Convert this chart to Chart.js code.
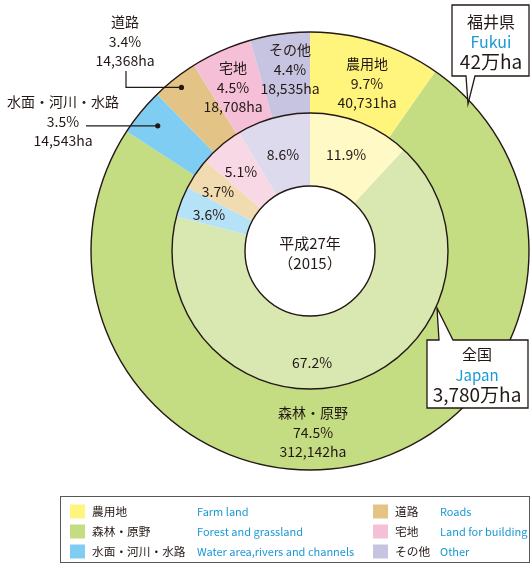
<!DOCTYPE html>
<html><head><meta charset="utf-8">
<script src="https://cdn.jsdelivr.net/npm/chart.js@4"></script>
<style>html,body{margin:0;padding:0;background:#fff;}canvas{display:block}</style>
</head><body>
<canvas id="c" width="531" height="563"></canvas>
<script>
// ---- data ----
const categories = ['農用地', '森林・原野', '水面・河川・水路', '道路', '宅地', 'その他'];
const categoriesEn = ['Farm land', 'Forest and grassland', 'Water area,rivers and channels', 'Roads', 'Land for building', 'Other'];
const fukuiPercent = [9.7, 74.5, 3.5, 3.4, 4.5, 4.4];
const fukuiHectares = [40731, 312142, 14543, 14368, 18708, 18535];
const japanPercent = [11.9, 67.2, 3.6, 3.7, 5.1, 8.6];
const fukuiName = ['福井県', 'Fukui', '42万ha'];
const japanName = ['全国', 'Japan', '3,780万ha'];
const yearLabel = ['平成27年', '（2015）'];

// ---- styles ----
const outerColors = ['#fff47c', '#c4dc82', '#80cdf3', '#e4c486', '#f4bfd7', '#c7c4e2'];
const innerColors = ['#fffac5', '#d9e7b1', '#b6e2f8', '#f1dbb1', '#f9d8e6', '#dddaee'];
const TXT = '#231815';
const BLUE = '#1b98d5';
const FONT = "'Noto Sans CJK JP', 'Noto Sans', sans-serif";

// label offsets from chart centre (dx, dy of first line)
const outerLabelPos = [[57, -187], [3, 162], [-247, -149], [-185, -229], [-77, -183], [-20, -201]];
const innerLabelPos = [[36, -96], [2, 112], [-101, -36], [-92, -59], [-69, -79], [-27, -96]];

const fmt = n => n.toLocaleString('en-US');

const overlay = {
  id: 'overlay',
  afterDatasetsDraw(chart) {
    const ctx = chart.ctx;
    const m0 = chart.getDatasetMeta(0), m1 = chart.getDatasetMeta(1);
    const p0 = m0.data[0].getProps(['x', 'y', 'outerRadius', 'innerRadius']);
    const p1 = m1.data[0].getProps(['x', 'y', 'outerRadius', 'innerRadius']);
    const cx = p0.x, cy = p0.y;
    ctx.save();
    ctx.strokeStyle = TXT;
    ctx.lineWidth = 1.4;
    [p0.outerRadius, p0.innerRadius].forEach(r => {
      ctx.beginPath(); ctx.arc(cx, cy, r, 0, Math.PI * 2); ctx.stroke();
    });
    ctx.beginPath(); ctx.arc(cx, cy, p1.innerRadius, 0, Math.PI * 2);
    ctx.fillStyle = '#fff'; ctx.fill(); ctx.stroke();

    ctx.fillStyle = TXT;
    ctx.textAlign = 'center';
    ctx.textBaseline = 'middle';
    // outer labels
    ctx.font = '14px ' + FONT;
    categories.forEach((c, i) => {
      const [dx, dy] = outerLabelPos[i];
      const lines = [c, fukuiPercent[i].toFixed(1) + '%', fmt(fukuiHectares[i]) + 'ha'];
      lines.forEach((t, k) => ctx.fillText(t, cx + dx, cy + dy + k * 19.5));
    });
    // inner labels
    categories.forEach((c, i) => {
      const [dx, dy] = innerLabelPos[i];
      ctx.fillText(japanPercent[i].toFixed(1) + '%', cx + dx, cy + dy);
    });
    // centre
    ctx.font = '15px ' + FONT;
    ctx.fillText(yearLabel[0], cx, cy - 8);
    ctx.fillText(yearLabel[1], cx, cy + 12);

    // leader lines (roads, water)
    const dot = (idx, frac) => {
      const a = m0.data[idx].getProps(['startAngle', 'endAngle']);
      const ang = (a.startAngle + a.endAngle) / 2;
      const r = p0.outerRadius * frac;
      return [cx + r * Math.cos(ang), cy + r * Math.sin(ang)];
    };
    ctx.lineWidth = 1.2;
    const dRoad = dot(3, 0.95);
    ctx.beginPath();
    ctx.moveTo(cx - 184, cy - 180);
    ctx.lineTo(cx - 184, dRoad[1]);
    ctx.lineTo(dRoad[0], dRoad[1]);
    ctx.stroke();
    ctx.beginPath(); ctx.arc(dRoad[0], dRoad[1], 2.6, 0, Math.PI * 2); ctx.fill();
    const dWater = dot(2, 0.9);
    ctx.beginPath();
    ctx.moveTo(cx - 224, dWater[1]);
    ctx.lineTo(dWater[0], dWater[1]);
    ctx.stroke();
    ctx.beginPath(); ctx.arc(dWater[0], dWater[1], 2.6, 0, Math.PI * 2); ctx.fill();

    // callout boxes
    ctx.lineWidth = 1.3;
    ctx.fillStyle = '#fff';
    ctx.beginPath();
    ctx.moveTo(452, 5); ctx.lineTo(529, 5); ctx.lineTo(529, 76); ctx.lineTo(475, 76);
    ctx.lineTo(468, 104); ctx.lineTo(466, 76); ctx.lineTo(452, 76); ctx.closePath();
    ctx.fill(); ctx.stroke();
    ctx.beginPath();
    ctx.moveTo(427, 340); ctx.lineTo(439, 340); ctx.lineTo(437, 308); ctx.lineTo(453, 340);
    ctx.lineTo(528, 340); ctx.lineTo(528, 408); ctx.lineTo(427, 408); ctx.closePath();
    ctx.fill(); ctx.stroke();

    ctx.fillStyle = TXT; ctx.font = '16px ' + FONT;
    ctx.fillText(fukuiName[0], 491, 22);
    ctx.fillStyle = BLUE; ctx.fillText(fukuiName[1], 491, 42);
    ctx.fillStyle = TXT; ctx.font = '19px ' + FONT;
    ctx.fillText(fukuiName[2], 491, 62);
    ctx.font = '15px ' + FONT;
    ctx.fillText(japanName[0], 477, 354);
    ctx.fillStyle = BLUE; ctx.fillText(japanName[1], 477, 375);
    ctx.fillStyle = TXT; ctx.font = '19px ' + FONT;
    ctx.fillText(japanName[2], 477, 395);

    // legend
    ctx.lineWidth = 1;
    ctx.strokeStyle = '#595757';
    ctx.strokeRect(60.5, 496.5, 469, 66);
    ctx.textAlign = 'left';
    categories.forEach((c, i) => {
      const col = Math.floor(i / 3), row = i % 3;
      const y = 511.5 + row * 20;
      const sx = col ? 373 : 70, jx = col ? 395 : 92, ex = col ? 440 : 197;
      ctx.fillStyle = outerColors[i];
      ctx.fillRect(sx, y - 7, 15, 14);
      ctx.fillStyle = TXT; ctx.font = '11.7px ' + FONT;
      ctx.fillText(c, jx, y);
      ctx.fillStyle = BLUE; ctx.font = '11px ' + FONT;
      ctx.fillText(categoriesEn[i], ex, y);
    });
    ctx.restore();
  }
};

new Chart(document.getElementById('c'), {
  type: 'doughnut',
  data: {
    labels: categories,
    datasets: [
      { data: fukuiPercent, backgroundColor: outerColors, borderWidth: 0, weight: 81, hoverOffset: 0 },
      { data: japanPercent, backgroundColor: innerColors, borderWidth: 0, weight: 73, hoverOffset: 0 }
    ]
  },
  plugins: [overlay],
  options: {
    responsive: false,
    animation: false,
    events: [],
    cutout: 65,
    layout: { padding: { left: 91, right: 2, top: 32, bottom: 93 } },
    plugins: { legend: { display: false }, tooltip: { enabled: false } }
  }
});
</script>
</body></html>
